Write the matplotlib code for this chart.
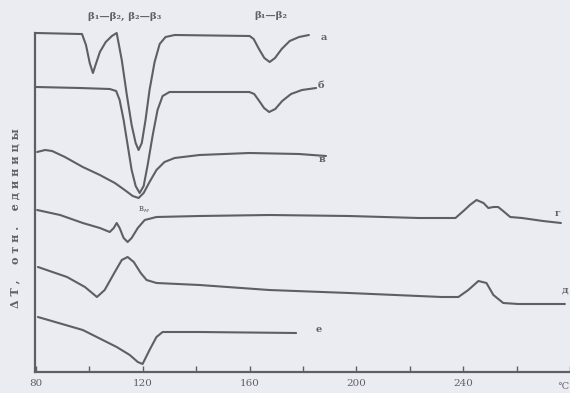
import matplotlib
matplotlib.use('Agg')
import matplotlib.pyplot as plt

# DTA curves, temperature in deg C, signal in arbitrary units (height above baseline)
t_a = [80.0, 96.4, 97.2, 98.7, 100.1, 101.3, 102.4, 103.9, 106.1, 108.4, 110.2, 112.1, 114.0,
       115.8, 117.3, 118.4, 119.6, 121.0, 122.5, 124.4, 126.3, 128.5, 131.9, 160.0, 161.5,
       163.5, 165.5, 167.5, 169.5, 172.0, 175.0, 178.5, 182.2]
y_a = [33.9, 33.8, 33.8, 32.7, 30.9, 29.9, 30.8, 32.0, 33.0, 33.6, 33.9, 31.2, 27.7,
       24.7, 22.9, 22.2, 22.9, 25.2, 28.2, 31.0, 32.8, 33.5, 33.7, 33.6, 33.3,
       32.3, 31.4, 31.0, 31.4, 32.3, 33.1, 33.5, 33.7]

t_b = [80.0, 96.4, 107.6, 110.0, 111.3, 112.8, 114.3, 115.8, 117.3, 118.8, 120.3, 121.8, 123.7,
       125.5, 127.4, 130.0, 141.2, 159.9, 161.7, 163.6, 165.4, 167.3, 169.6, 172.2, 175.5,
       179.6, 184.9]
y_b = [28.5, 28.4, 28.3, 28.1, 27.2, 25.2, 22.7, 20.2, 18.6, 17.9, 18.6, 20.7, 23.7,
       26.2, 27.6, 28.0, 28.0, 28.0, 27.8, 27.1, 26.4, 26.0, 26.3, 27.1, 27.8,
       28.2, 28.4]

t_c = [80.4, 83.4, 86.0, 90.8, 97.5, 103.9, 109.5, 113.2, 116.2, 118.4, 120.3, 122.5, 125.1,
       128.1, 131.9, 141.2, 159.9, 178.5, 188.6]
y_c = [22.0, 22.2, 22.1, 21.5, 20.5, 19.7, 18.9, 18.2, 17.6, 17.4, 17.9, 19.0, 20.2,
       21.0, 21.4, 21.7, 21.9, 21.8, 21.6]

t_d = [80.4, 89.0, 97.5, 103.9, 107.6, 109.1, 110.2, 111.3, 112.8, 114.3, 115.8, 118.1, 120.7,
       125.1, 141.2, 167.3, 197.2, 223.3, 232.6, 237.1, 240.5, 242.5, 245.0, 247.6, 249.4,
       251.3, 253.1, 255.4, 257.6, 262.0, 269.9, 276.6]
y_d = [16.2, 15.7, 14.9, 14.4, 14.0, 14.4, 14.9, 14.4, 13.4, 13.0, 13.4, 14.4, 15.2,
       15.5, 15.6, 15.7, 15.6, 15.4, 15.4, 15.4, 16.2, 16.7, 17.2, 16.9, 16.4,
       16.5, 16.5, 16.0, 15.5, 15.4, 15.1, 14.9]

t_e = [80.7, 91.6, 98.3, 102.8, 105.7, 109.5, 112.1, 114.3, 116.6, 119.2, 121.4, 125.1, 141.2,
       167.3, 197.2, 231.9, 238.2, 241.9, 245.7, 248.7, 251.3, 255.0, 260.6, 278.1]
y_e = [10.5, 9.5, 8.5, 7.5, 8.2, 10.0, 11.2, 11.5, 11.0, 9.9, 9.2, 8.9, 8.7,
       8.2, 7.9, 7.5, 7.5, 8.2, 9.1, 8.9, 7.7, 6.9, 6.8, 6.8]

t_f = [80.7, 97.5, 110.2, 115.1, 118.1, 119.9, 122.5, 125.1, 127.4, 141.2, 177.4]
y_f = [5.5, 4.2, 2.5, 1.7, 1.0, 0.8, 2.2, 3.5, 4.0, 4.0, 3.9]

curves = [(t_a, y_a), (t_b, y_b), (t_c, y_c), (t_d, y_d), (t_e, y_e), (t_f, y_f)]
curve_names = ['а', 'б', 'в', 'г', 'д', 'е']
name_pos = [(187.8, 33.5), (186.7, 28.7), (187.1, 21.2), (275.5, 15.9), (278.1, 8.2), (186.0, 4.2)]

xticks = [80, 100, 120, 140, 160, 180, 200, 220, 240, 260, 280]
xlabels = ['80', '', '120', '', '160', '', '200', '', '240', '', '']

bg = '#ebebf2'
ink = '#5e5e64'
txt = '#606066'

fig = plt.figure(figsize=(5.7, 3.93), dpi=100, facecolor=bg)
ax = fig.add_axes([35 / 570, 21 / 393, 535 / 570, 362 / 393])
ax.set_facecolor(bg)

for (t, y) in curves:
    ax.plot(t, y, color=ink, lw=1.5, solid_capstyle='round')

for name, (x, y) in zip(curve_names, name_pos):
    ax.text(x, y, name, color=txt, fontsize=7, ha='center', va='center',
            family='DejaVu Serif', fontweight='bold')

ax.text(113.2, 35.6, 'β₁—β₂, β₂—β₃', color=txt, fontsize=7.5, ha='center', va='center',
        family='DejaVu Serif', fontweight='bold')
ax.text(168.0, 35.6, 'β₁—β₂', color=txt, fontsize=7.5, ha='center', va='center',
        family='DejaVu Serif', fontweight='bold')
ax.text(120.5, 16.2, 'в$_м$', color=txt, fontsize=6.5, ha='center', va='center',
        family='DejaVu Serif')
ax.text(277.5, -1.0, '°C', color=txt, fontsize=7, ha='center', va='top',
        family='DejaVu Serif', clip_on=False)

fig.text(15 / 570, 1 - 218 / 393, 'Δ T ,    о т н .    е д и н и ц ы', rotation=90,
         color=txt, fontsize=8, ha='center', va='center', family='DejaVu Serif',
         fontweight='bold')

ax.set_xlim(79.6, 279.3)
ax.set_ylim(0, 36.2)
ax.set_xticks(xticks)
ax.set_xticklabels(xlabels, family='DejaVu Serif')
ax.set_yticks([])
ax.tick_params(axis='x', direction='in', length=4, width=1, color=ink, labelcolor=txt,
               labelsize=7.5, pad=5)
for s in ['top', 'right']:
    ax.spines[s].set_visible(False)
for s in ['left', 'bottom']:
    ax.spines[s].set_color(ink)
    ax.spines[s].set_linewidth(1.6)
ax.spines['left'].set_bounds(0, 33.9)

fig.savefig('out.png', dpi=100, facecolor=bg)
